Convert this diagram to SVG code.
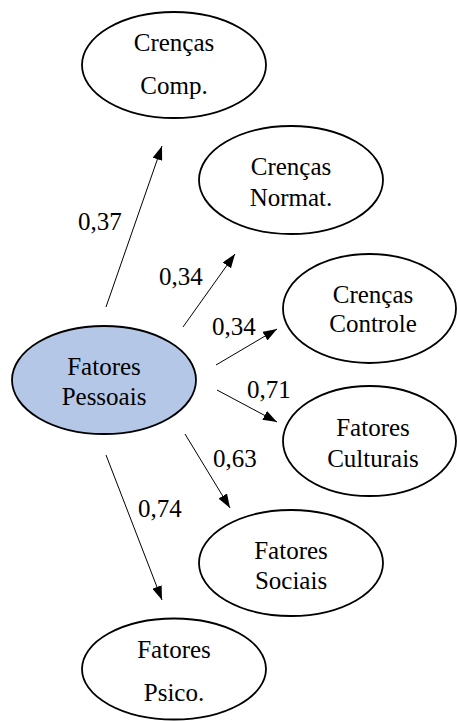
<svg xmlns="http://www.w3.org/2000/svg" width="457" height="721" viewBox="0 0 457 721">
<defs>
<marker id="arr" markerUnits="userSpaceOnUse" markerWidth="14" markerHeight="10" refX="14" refY="5" orient="auto" viewBox="0 0 14 10">
<path d="M0,0 L14,5 L0,10 z" fill="#000000"/>
</marker>
</defs>
<g id="connectors" stroke="#000000" stroke-width="1">
<line x1="106" y1="307" x2="162" y2="146" marker-end="url(#arr)"/>
<line x1="183" y1="327" x2="235" y2="254" marker-end="url(#arr)"/>
<line x1="216" y1="365" x2="277" y2="329" marker-end="url(#arr)"/>
<line x1="217" y1="390" x2="277" y2="422" marker-end="url(#arr)"/>
<line x1="185" y1="434" x2="230" y2="508" marker-end="url(#arr)"/>
<line x1="106" y1="455" x2="162" y2="600" marker-end="url(#arr)"/>
</g>
<text x="78" y="230" font-family="Times New Roman" font-size="25">0,37</text>
<text x="159" y="285" font-family="Times New Roman" font-size="25">0,34</text>
<text x="212" y="335" font-family="Times New Roman" font-size="25">0,34</text>
<text x="247" y="398" font-family="Times New Roman" font-size="25">0,71</text>
<text x="213" y="467" font-family="Times New Roman" font-size="25">0,63</text>
<text x="138" y="517" font-family="Times New Roman" font-size="25">0,74</text>
<g id="n_comp">
<ellipse cx="174" cy="65" rx="92" ry="53" fill="#ffffff" stroke="#000000" stroke-width="1.8"/>
<text x="174" y="51" font-family="Times New Roman" font-size="25" text-anchor="middle">Crenças</text>
<text x="174" y="94" font-family="Times New Roman" font-size="25" text-anchor="middle">Comp.</text>
</g>
<g id="n_normat">
<ellipse cx="291" cy="180" rx="92" ry="54" fill="#ffffff" stroke="#000000" stroke-width="1.8"/>
<text x="291" y="175" font-family="Times New Roman" font-size="25" text-anchor="middle">Crenças</text>
<text x="291" y="206" font-family="Times New Roman" font-size="25" text-anchor="middle">Normat.</text>
</g>
<g id="n_controle">
<ellipse cx="369.5" cy="308.5" rx="86.5" ry="54.5" fill="#ffffff" stroke="#000000" stroke-width="1.8"/>
<text x="373" y="303" font-family="Times New Roman" font-size="25" text-anchor="middle">Crenças</text>
<text x="373" y="332" font-family="Times New Roman" font-size="25" text-anchor="middle">Controle</text>
</g>
<g id="n_culturais">
<ellipse cx="369.5" cy="441" rx="86.5" ry="55" fill="#ffffff" stroke="#000000" stroke-width="1.8"/>
<text x="373" y="436" font-family="Times New Roman" font-size="25" text-anchor="middle">Fatores</text>
<text x="373" y="467" font-family="Times New Roman" font-size="25" text-anchor="middle">Culturais</text>
</g>
<g id="n_sociais">
<ellipse cx="291" cy="563" rx="92" ry="53" fill="#ffffff" stroke="#000000" stroke-width="1.8"/>
<text x="291" y="559" font-family="Times New Roman" font-size="25" text-anchor="middle">Fatores</text>
<text x="291" y="589" font-family="Times New Roman" font-size="25" text-anchor="middle">Sociais</text>
</g>
<g id="n_psico">
<ellipse cx="174" cy="669" rx="92" ry="50.5" fill="#ffffff" stroke="#000000" stroke-width="1.8"/>
<text x="174" y="658" font-family="Times New Roman" font-size="25" text-anchor="middle">Fatores</text>
<text x="174" y="701" font-family="Times New Roman" font-size="25" text-anchor="middle">Psico.</text>
</g>
<g id="n_pessoais">
<ellipse cx="104" cy="380" rx="92" ry="54" fill="#b4c7e7" stroke="#000000" stroke-width="1.8"/>
<text x="104" y="375" font-family="Times New Roman" font-size="25" text-anchor="middle">Fatores</text>
<text x="104" y="405" font-family="Times New Roman" font-size="25" text-anchor="middle">Pessoais</text>
</g>
</svg>
